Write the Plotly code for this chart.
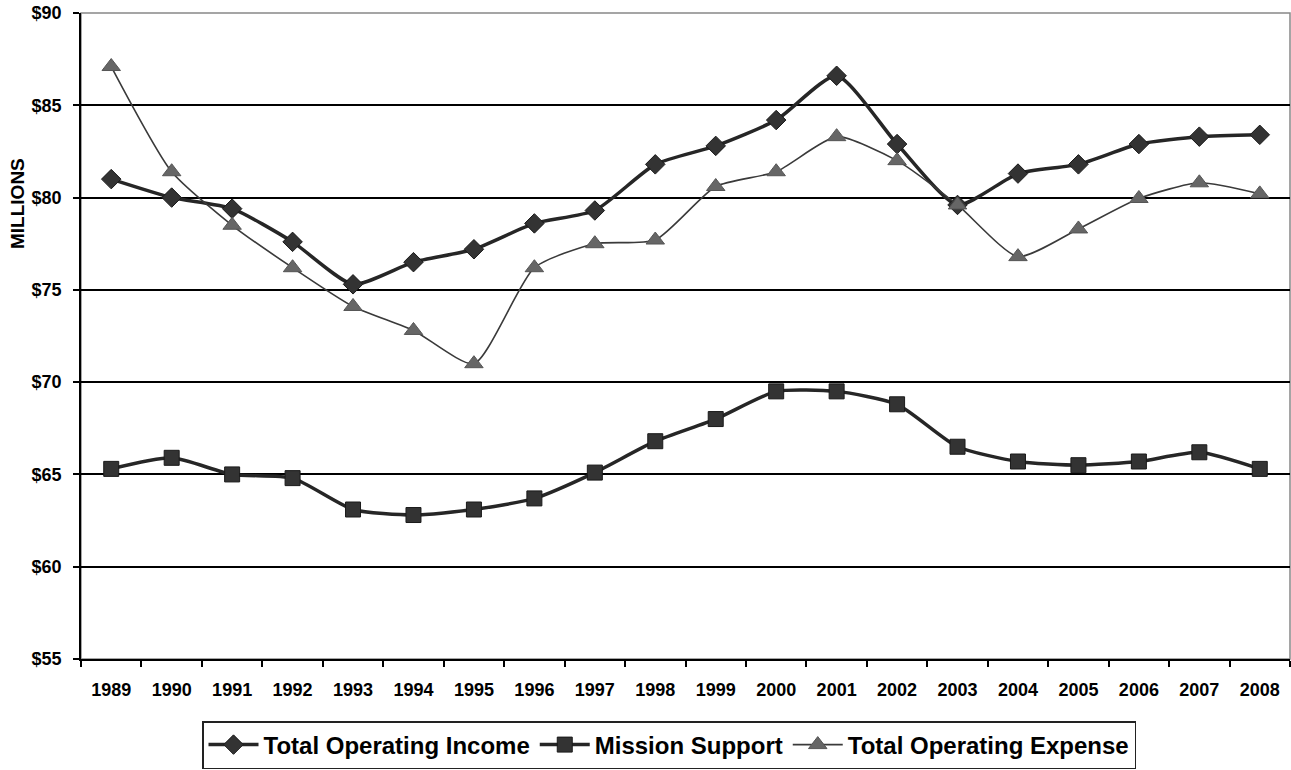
import plotly.graph_objects as go

years = [str(y) for y in range(1989, 2009)]
income = [81.0, 80.0, 79.4, 77.6, 75.3, 76.5, 77.2, 78.6, 79.3, 81.8,
          82.8, 84.2, 86.6, 82.9, 79.6, 81.3, 81.8, 82.9, 83.3, 83.4]
mission = [65.3, 65.9, 65.0, 64.8, 63.1, 62.8, 63.1, 63.7, 65.1, 66.8,
           68.0, 69.5, 69.5, 68.8, 66.5, 65.7, 65.5, 65.7, 66.2, 65.3]
expense = [87.1, 81.4, 78.5, 76.2, 74.1, 72.8, 71.0, 76.2, 77.5, 77.7,
           80.6, 81.4, 83.3, 82.0, 79.6, 76.8, 78.3, 79.95, 80.8, 80.2]
y_ticks = [55, 60, 65, 70, 75, 80, 85, 90]
y_labels = ["$" + str(v) for v in y_ticks]

font_family = "Liberation Sans, Arial, sans-serif"

W, H = 1291, 770
ML, MR, MT, MB = 81, 1, 13, 111
PW, PH = W - ML - MR, H - MT - MB

fig = go.Figure()
fig.add_trace(go.Scatter(
    x=years, y=income, name="<b>Total Operating Income</b>", mode="lines+markers",
    line=dict(color="#262626", width=3.5, shape="spline", smoothing=0.6),
    marker=dict(symbol="diamond", size=15, color="#333333",
                line=dict(color="#1a1a1a", width=1))))
fig.add_trace(go.Scatter(
    x=years, y=mission, name="<b>Mission Support</b>", mode="lines+markers",
    line=dict(color="#262626", width=3.5, shape="spline", smoothing=0.6),
    marker=dict(symbol="square", size=15, color="#333333",
                line=dict(color="#1a1a1a", width=1))))
fig.add_trace(go.Scatter(
    x=years, y=expense, name="<b>Total Operating Expense</b>", mode="lines+markers",
    line=dict(color="#3a3a3a", width=1.6, shape="spline", smoothing=0.6),
    marker=dict(symbol="triangle-up", size=16, color="#666666",
                line=dict(color="#555555", width=1))))

fig.update_layout(
    width=W, height=H,
    margin=dict(l=ML, r=MR, t=MT, b=MB),
    paper_bgcolor="white", plot_bgcolor="white",
    font=dict(family=font_family, color="black"),
    legend=dict(orientation="h", x=669 / W, xanchor="center", xref="container",
                y=1 - 721 / H, yanchor="top", yref="container",
                bordercolor="#222222", borderwidth=1.5, bgcolor="white",
                font=dict(size=24, family=font_family, color="black"),
                itemwidth=50, tracegroupgap=0),
    shapes=[dict(type="rect", xref="paper", yref="paper", x0=0, x1=1, y0=0, y1=1,
                 line=dict(color="#888888", width=1.5), layer="below")],
    annotations=[dict(text="<b>MILLIONS</b>", textangle=-90, showarrow=False,
                      xref="paper", yref="paper",
                      x=(17 - ML) / PW, y=1 - (204 - MT) / PH,
                      xanchor="center", yanchor="middle",
                      font=dict(size=19, family=font_family, color="black"))],
)
fig.update_xaxes(
    type="category", range=[-0.5, 19.5], tickson="boundaries", ticks="outside", ticklen=6,
    tickcolor="black", tickwidth=1.5, automargin=False, ticklabelstandoff=14,
    showline=True, linecolor="black", linewidth=1.5, showgrid=False,
    tickfont=dict(size=18, family=font_family, color="black", weight="bold"),
)
fig.update_yaxes(
    range=[55, 90], tickvals=y_ticks, ticktext=y_labels, automargin=False,
    ticklabeloverflow="allow", ticklabelstandoff=8,
    ticks="outside", ticklen=6, tickcolor="black", tickwidth=1.5,
    showline=True, linecolor="black", linewidth=1.5,
    showgrid=True, gridcolor="black", gridwidth=1.5, zeroline=False,
    tickfont=dict(size=18, family=font_family, color="black", weight="bold"),
)

fig.write_html("out.html", config={"displayModeBar": False},
               post_script="document.body.style.margin='0';document.body.style.overflow='hidden';")
